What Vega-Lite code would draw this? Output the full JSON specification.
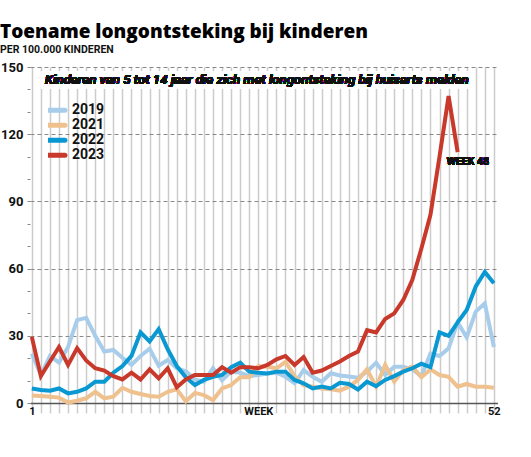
{
  "$schema": "https://vega.github.io/schema/vega-lite/v6.json",
  "width": 467.5,
  "height": 336,
  "autosize": {"type": "none"},
  "padding": {"left": 30, "top": 67, "right": 33, "bottom": 54},
  "background": "white",
  "title": {
    "text": "Toename longontsteking bij kinderen",
    "subtitle": "PER 100.000 KINDEREN",
    "anchor": "start",
    "frame": "group",
    "dx": -30,
    "offset": 6,
    "font": "Open Sans",
    "fontSize": 19,
    "fontWeight": 800,
    "color": "#000",
    "subtitleFont": "Roboto",
    "subtitleFontSize": 10.5,
    "subtitleFontWeight": "bold",
    "subtitleColor": "#111",
    "subtitlePadding": 2.5
  },
  "data": {"values": [
    {"week":1,"jaar":"2019","waarde":22},{"week":2,"jaar":"2019","waarde":12.5},{"week":3,"jaar":"2019","waarde":21},{"week":4,"jaar":"2019","waarde":18},{"week":5,"jaar":"2019","waarde":25},{"week":6,"jaar":"2019","waarde":37},{"week":7,"jaar":"2019","waarde":38},{"week":8,"jaar":"2019","waarde":30},{"week":9,"jaar":"2019","waarde":23},{"week":10,"jaar":"2019","waarde":23.7},{"week":11,"jaar":"2019","waarde":20.2},{"week":12,"jaar":"2019","waarde":17},{"week":13,"jaar":"2019","waarde":21},{"week":14,"jaar":"2019","waarde":24.2},{"week":15,"jaar":"2019","waarde":16.7},{"week":16,"jaar":"2019","waarde":19.2},{"week":17,"jaar":"2019","waarde":15.5},{"week":18,"jaar":"2019","waarde":14.2},{"week":19,"jaar":"2019","waarde":10.5},{"week":20,"jaar":"2019","waarde":9.5},{"week":21,"jaar":"2019","waarde":15.5},{"week":22,"jaar":"2019","waarde":10.2},{"week":23,"jaar":"2019","waarde":14},{"week":24,"jaar":"2019","waarde":13.5},{"week":25,"jaar":"2019","waarde":12},{"week":26,"jaar":"2019","waarde":12.5},{"week":27,"jaar":"2019","waarde":13.2},{"week":28,"jaar":"2019","waarde":13.5},{"week":29,"jaar":"2019","waarde":11.7},{"week":30,"jaar":"2019","waarde":8.8},{"week":31,"jaar":"2019","waarde":14.7},{"week":32,"jaar":"2019","waarde":11.7},{"week":33,"jaar":"2019","waarde":9.5},{"week":34,"jaar":"2019","waarde":13.3},{"week":35,"jaar":"2019","waarde":12.3},{"week":36,"jaar":"2019","waarde":11.8},{"week":37,"jaar":"2019","waarde":11.3},{"week":38,"jaar":"2019","waarde":14},{"week":39,"jaar":"2019","waarde":18},{"week":40,"jaar":"2019","waarde":12.5},{"week":41,"jaar":"2019","waarde":16.2},{"week":42,"jaar":"2019","waarde":16.2},{"week":43,"jaar":"2019","waarde":15},{"week":44,"jaar":"2019","waarde":12},{"week":45,"jaar":"2019","waarde":22},{"week":46,"jaar":"2019","waarde":21},{"week":47,"jaar":"2019","waarde":24.4},{"week":48,"jaar":"2019","waarde":36},{"week":49,"jaar":"2019","waarde":29.3},{"week":50,"jaar":"2019","waarde":40.8},{"week":51,"jaar":"2019","waarde":44.5},{"week":52,"jaar":"2019","waarde":25},
    {"week":1,"jaar":"2021","waarde":3.3},{"week":2,"jaar":"2021","waarde":3.1},{"week":3,"jaar":"2021","waarde":2.8},{"week":4,"jaar":"2021","waarde":2.4},{"week":5,"jaar":"2021","waarde":0.2},{"week":6,"jaar":"2021","waarde":1},{"week":7,"jaar":"2021","waarde":2.1},{"week":8,"jaar":"2021","waarde":5},{"week":9,"jaar":"2021","waarde":2.1},{"week":10,"jaar":"2021","waarde":2.8},{"week":11,"jaar":"2021","waarde":6.8},{"week":12,"jaar":"2021","waarde":5},{"week":13,"jaar":"2021","waarde":4},{"week":14,"jaar":"2021","waarde":3.1},{"week":15,"jaar":"2021","waarde":2.8},{"week":16,"jaar":"2021","waarde":5},{"week":17,"jaar":"2021","waarde":6.1},{"week":18,"jaar":"2021","waarde":0.8},{"week":19,"jaar":"2021","waarde":4.5},{"week":20,"jaar":"2021","waarde":3.5},{"week":21,"jaar":"2021","waarde":1.3},{"week":22,"jaar":"2021","waarde":6.5},{"week":23,"jaar":"2021","waarde":8},{"week":24,"jaar":"2021","waarde":11.5},{"week":25,"jaar":"2021","waarde":11.5},{"week":26,"jaar":"2021","waarde":16.5},{"week":27,"jaar":"2021","waarde":16.2},{"week":28,"jaar":"2021","waarde":15.5},{"week":29,"jaar":"2021","waarde":18.4},{"week":30,"jaar":"2021","waarde":12},{"week":31,"jaar":"2021","waarde":8},{"week":32,"jaar":"2021","waarde":7.3},{"week":33,"jaar":"2021","waarde":6.5},{"week":34,"jaar":"2021","waarde":6.1},{"week":35,"jaar":"2021","waarde":5.5},{"week":36,"jaar":"2021","waarde":7.3},{"week":37,"jaar":"2021","waarde":10.3},{"week":38,"jaar":"2021","waarde":15},{"week":39,"jaar":"2021","waarde":7.3},{"week":40,"jaar":"2021","waarde":17},{"week":41,"jaar":"2021","waarde":9.5},{"week":42,"jaar":"2021","waarde":14.7},{"week":43,"jaar":"2021","waarde":16.2},{"week":44,"jaar":"2021","waarde":11.5},{"week":45,"jaar":"2021","waarde":15},{"week":46,"jaar":"2021","waarde":12.5},{"week":47,"jaar":"2021","waarde":11.7},{"week":48,"jaar":"2021","waarde":7.3},{"week":49,"jaar":"2021","waarde":8.5},{"week":50,"jaar":"2021","waarde":7.3},{"week":51,"jaar":"2021","waarde":7.3},{"week":52,"jaar":"2021","waarde":6.8},
    {"week":1,"jaar":"2022","waarde":6.5},{"week":2,"jaar":"2022","waarde":5.8},{"week":3,"jaar":"2022","waarde":5.5},{"week":4,"jaar":"2022","waarde":6.5},{"week":5,"jaar":"2022","waarde":4.3},{"week":6,"jaar":"2022","waarde":5},{"week":7,"jaar":"2022","waarde":6.5},{"week":8,"jaar":"2022","waarde":9.5},{"week":9,"jaar":"2022","waarde":9.5},{"week":10,"jaar":"2022","waarde":13.5},{"week":11,"jaar":"2022","waarde":16.5},{"week":12,"jaar":"2022","waarde":21},{"week":13,"jaar":"2022","waarde":31.5},{"week":14,"jaar":"2022","waarde":27.5},{"week":15,"jaar":"2022","waarde":33},{"week":16,"jaar":"2022","waarde":24},{"week":17,"jaar":"2022","waarde":16.5},{"week":18,"jaar":"2022","waarde":11.5},{"week":19,"jaar":"2022","waarde":8},{"week":20,"jaar":"2022","waarde":10.3},{"week":21,"jaar":"2022","waarde":11.7},{"week":22,"jaar":"2022","waarde":12.5},{"week":23,"jaar":"2022","waarde":16},{"week":24,"jaar":"2022","waarde":18},{"week":25,"jaar":"2022","waarde":14},{"week":26,"jaar":"2022","waarde":13.5},{"week":27,"jaar":"2022","waarde":13.2},{"week":28,"jaar":"2022","waarde":14},{"week":29,"jaar":"2022","waarde":14},{"week":30,"jaar":"2022","waarde":10.3},{"week":31,"jaar":"2022","waarde":8.8},{"week":32,"jaar":"2022","waarde":6.5},{"week":33,"jaar":"2022","waarde":7.3},{"week":34,"jaar":"2022","waarde":6.5},{"week":35,"jaar":"2022","waarde":9},{"week":36,"jaar":"2022","waarde":8.5},{"week":37,"jaar":"2022","waarde":6},{"week":38,"jaar":"2022","waarde":9.5},{"week":39,"jaar":"2022","waarde":7.5},{"week":40,"jaar":"2022","waarde":10.3},{"week":41,"jaar":"2022","waarde":12},{"week":42,"jaar":"2022","waarde":14},{"week":43,"jaar":"2022","waarde":15.5},{"week":44,"jaar":"2022","waarde":17.5},{"week":45,"jaar":"2022","waarde":16},{"week":46,"jaar":"2022","waarde":31.5},{"week":47,"jaar":"2022","waarde":30},{"week":48,"jaar":"2022","waarde":36},{"week":49,"jaar":"2022","waarde":41.5},{"week":50,"jaar":"2022","waarde":52},{"week":51,"jaar":"2022","waarde":58.5},{"week":52,"jaar":"2022","waarde":53.5},
    {"week":1,"jaar":"2023","waarde":29.5},{"week":2,"jaar":"2023","waarde":12},{"week":3,"jaar":"2023","waarde":18.5},{"week":4,"jaar":"2023","waarde":25},{"week":5,"jaar":"2023","waarde":17},{"week":6,"jaar":"2023","waarde":24.5},{"week":7,"jaar":"2023","waarde":19},{"week":8,"jaar":"2023","waarde":15.5},{"week":9,"jaar":"2023","waarde":14.5},{"week":10,"jaar":"2023","waarde":12},{"week":11,"jaar":"2023","waarde":10.5},{"week":12,"jaar":"2023","waarde":13.5},{"week":13,"jaar":"2023","waarde":10.5},{"week":14,"jaar":"2023","waarde":15},{"week":15,"jaar":"2023","waarde":11},{"week":16,"jaar":"2023","waarde":15.5},{"week":17,"jaar":"2023","waarde":7},{"week":18,"jaar":"2023","waarde":10.5},{"week":19,"jaar":"2023","waarde":12.5},{"week":20,"jaar":"2023","waarde":12.5},{"week":21,"jaar":"2023","waarde":12.5},{"week":22,"jaar":"2023","waarde":16},{"week":23,"jaar":"2023","waarde":13.5},{"week":24,"jaar":"2023","waarde":16},{"week":25,"jaar":"2023","waarde":16},{"week":26,"jaar":"2023","waarde":15.5},{"week":27,"jaar":"2023","waarde":17},{"week":28,"jaar":"2023","waarde":19.5},{"week":29,"jaar":"2023","waarde":21},{"week":30,"jaar":"2023","waarde":17},{"week":31,"jaar":"2023","waarde":20.5},{"week":32,"jaar":"2023","waarde":13.5},{"week":33,"jaar":"2023","waarde":14.5},{"week":34,"jaar":"2023","waarde":16.5},{"week":35,"jaar":"2023","waarde":18.5},{"week":36,"jaar":"2023","waarde":21},{"week":37,"jaar":"2023","waarde":23},{"week":38,"jaar":"2023","waarde":32.5},{"week":39,"jaar":"2023","waarde":31.5},{"week":40,"jaar":"2023","waarde":37.5},{"week":41,"jaar":"2023","waarde":40},{"week":42,"jaar":"2023","waarde":46},{"week":43,"jaar":"2023","waarde":55},{"week":44,"jaar":"2023","waarde":69},{"week":45,"jaar":"2023","waarde":84},{"week":46,"jaar":"2023","waarde":110},{"week":47,"jaar":"2023","waarde":137},{"week":48,"jaar":"2023","waarde":112}
  ]},
  "layer": [
    {
      "mark": {"type": "line", "strokeWidth": 4},
      "encoding": {
        "x": {
          "field": "week", "type": "quantitative",
          "scale": {"domain": [0.8, 52.4], "nice": false, "zero": false},
          "axis": {
            "title": null,
            "values": [1,2,3,4,5,6,7,8,9,10,11,12,13,14,15,16,17,18,19,20,21,22,23,24,25,26,27,28,29,30,31,32,33,34,35,36,37,38,39,40,41,42,43,44,45,46,47,48,49,50,51,52],
            "labelExpr": "datum.value == 1 ? '1' : datum.value == 26 ? 'WEEK' : datum.value == 52 ? '52' : ''",
            "grid": true, "gridColor": "#cccccc", "gridWidth": 1.5,
            "tickColor": "#cccccc", "tickWidth": 1.5, "tickSize": 10,
            "domainColor": "#555555", "domainWidth": 1.5,
            "labelPadding": -8, "labelBaseline": "top",
            "labelFont": "Roboto", "labelFontSize": 11, "labelFontWeight": "bold", "labelColor": "#111",
            "labelFlush": false, "labelOverlap": false
          }
        },
        "y": {
          "field": "waarde", "type": "quantitative",
          "scale": {"domain": [0, 150], "nice": false},
          "axis": {
            "title": null,
            "values": [0,10,20,30,40,50,60,70,80,90,100,110,120,130,140,150],
            "labelExpr": "datum.value % 30 === 0 ? datum.label : ''",
            "grid": true, "gridDash": [4, 3], "gridColor": "#888888",
            "gridOpacity": {"condition": {"test": "datum.value % 30 !== 0 || datum.value === 0", "value": 0}, "value": 1},
            "domain": false,
            "tickColor": "#888888", "tickSize": 3,
            "labelPadding": 4,
            "labelFont": "Roboto", "labelFontSize": 13, "labelFontWeight": "bold", "labelColor": "#111",
            "labelOverlap": false
          }
        },
        "color": {
          "field": "jaar", "type": "nominal",
          "scale": {"domain": ["2019", "2021", "2022", "2023"], "range": ["#a8cdea", "#eec18e", "#0a98d2", "#c8392b"]},
          "legend": {
            "title": null,
            "orient": "none",
            "legendX": 18,
            "legendY": 36,
            "padding": 0,
            "symbolType": "M-1.7,0H1.7",
            "symbolStrokeWidth": 5,
            "symbolSize": 110,
            "clipHeight": 14.5,
            "rowPadding": 0,
            "labelOffset": 8,
            "labelFont": "Roboto",
            "labelFontSize": 14,
            "labelFontWeight": "bold",
            "labelColor": "#111",
            "encode": {"symbols": {"update": {"strokeCap": {"value": "round"}}}}
          }
        }
      }
    },
    {
      "mark": {"type": "rect", "color": "white"},
      "encoding": {
        "x": {"datum": 2.0, "type": "quantitative",
          "axis": {
            "title": null,
            "values": [1,2,3,4,5,6,7,8,9,10,11,12,13,14,15,16,17,18,19,20,21,22,23,24,25,26,27,28,29,30,31,32,33,34,35,36,37,38,39,40,41,42,43,44,45,46,47,48,49,50,51,52],
            "labelExpr": "datum.value == 1 ? '1' : datum.value == 26 ? 'WEEK' : datum.value == 52 ? '52' : ''",
            "grid": true, "gridColor": "#cccccc", "gridWidth": 1.5,
            "tickColor": "#cccccc", "tickWidth": 1.5, "tickSize": 10,
            "domainColor": "#555555", "domainWidth": 1.5,
            "labelPadding": -8, "labelBaseline": "top",
            "labelFont": "Roboto", "labelFontSize": 11, "labelFontWeight": "bold", "labelColor": "#111",
            "labelFlush": false, "labelOverlap": false
          }
        },
        "x2": {"datum": 49.6},
        "y": {"datum": 140.5, "type": "quantitative",
          "axis": {
            "title": null,
            "values": [0,10,20,30,40,50,60,70,80,90,100,110,120,130,140,150],
            "labelExpr": "datum.value % 30 === 0 ? datum.label : ''",
            "grid": true, "gridDash": [4, 3], "gridColor": "#888888",
            "gridOpacity": {"condition": {"test": "datum.value % 30 !== 0 || datum.value === 0", "value": 0}, "value": 1},
            "domain": false,
            "tickColor": "#888888", "tickSize": 3,
            "labelPadding": 4,
            "labelFont": "Roboto", "labelFontSize": 13, "labelFontWeight": "bold", "labelColor": "#111",
            "labelOverlap": false
          }
        },
        "y2": {"datum": 148}
      }
    },
    {
      "mark": {"type": "text", "align": "left", "baseline": "middle", "font": "Roboto", "fontSize": 13.2, "fontStyle": "italic", "fontWeight": "bold", "color": "#111"},
      "encoding": {
        "x": {"datum": 2.45, "type": "quantitative",
          "axis": {
            "title": null,
            "values": [1,2,3,4,5,6,7,8,9,10,11,12,13,14,15,16,17,18,19,20,21,22,23,24,25,26,27,28,29,30,31,32,33,34,35,36,37,38,39,40,41,42,43,44,45,46,47,48,49,50,51,52],
            "labelExpr": "datum.value == 1 ? '1' : datum.value == 26 ? 'WEEK' : datum.value == 52 ? '52' : ''",
            "grid": true, "gridColor": "#cccccc", "gridWidth": 1.5,
            "tickColor": "#cccccc", "tickWidth": 1.5, "tickSize": 10,
            "domainColor": "#555555", "domainWidth": 1.5,
            "labelPadding": -8, "labelBaseline": "top",
            "labelFont": "Roboto", "labelFontSize": 11, "labelFontWeight": "bold", "labelColor": "#111",
            "labelFlush": false, "labelOverlap": false
          }
        },
        "y": {"datum": 144.2, "type": "quantitative",
          "axis": {
            "title": null,
            "values": [0,10,20,30,40,50,60,70,80,90,100,110,120,130,140,150],
            "labelExpr": "datum.value % 30 === 0 ? datum.label : ''",
            "grid": true, "gridDash": [4, 3], "gridColor": "#888888",
            "gridOpacity": {"condition": {"test": "datum.value % 30 !== 0 || datum.value === 0", "value": 0}, "value": 1},
            "domain": false,
            "tickColor": "#888888", "tickSize": 3,
            "labelPadding": 4,
            "labelFont": "Roboto", "labelFontSize": 13, "labelFontWeight": "bold", "labelColor": "#111",
            "labelOverlap": false
          }
        },
        "text": {"value": "Kinderen van 5 tot 14 jaar die zich met longontsteking bij huisarts melden"}
      }
    },
    {
      "mark": {"type": "text", "align": "left", "baseline": "middle", "font": "Roboto", "fontSize": 10.5, "fontWeight": "bold", "color": "#111"},
      "encoding": {
        "x": {"datum": 46.8, "type": "quantitative",
          "axis": {
            "title": null,
            "values": [1,2,3,4,5,6,7,8,9,10,11,12,13,14,15,16,17,18,19,20,21,22,23,24,25,26,27,28,29,30,31,32,33,34,35,36,37,38,39,40,41,42,43,44,45,46,47,48,49,50,51,52],
            "labelExpr": "datum.value == 1 ? '1' : datum.value == 26 ? 'WEEK' : datum.value == 52 ? '52' : ''",
            "grid": true, "gridColor": "#cccccc", "gridWidth": 1.5,
            "tickColor": "#cccccc", "tickWidth": 1.5, "tickSize": 10,
            "domainColor": "#555555", "domainWidth": 1.5,
            "labelPadding": -8, "labelBaseline": "top",
            "labelFont": "Roboto", "labelFontSize": 11, "labelFontWeight": "bold", "labelColor": "#111",
            "labelFlush": false, "labelOverlap": false
          }
        },
        "y": {"datum": 107.6, "type": "quantitative",
          "axis": {
            "title": null,
            "values": [0,10,20,30,40,50,60,70,80,90,100,110,120,130,140,150],
            "labelExpr": "datum.value % 30 === 0 ? datum.label : ''",
            "grid": true, "gridDash": [4, 3], "gridColor": "#888888",
            "gridOpacity": {"condition": {"test": "datum.value % 30 !== 0 || datum.value === 0", "value": 0}, "value": 1},
            "domain": false,
            "tickColor": "#888888", "tickSize": 3,
            "labelPadding": 4,
            "labelFont": "Roboto", "labelFontSize": 13, "labelFontWeight": "bold", "labelColor": "#111",
            "labelOverlap": false
          }
        },
        "text": {"value": "WEEK 48"}
      }
    }
  ],
  "config": {
    "view": {"stroke": null},
    "line": {"strokeCap": "butt"}
  }
}
